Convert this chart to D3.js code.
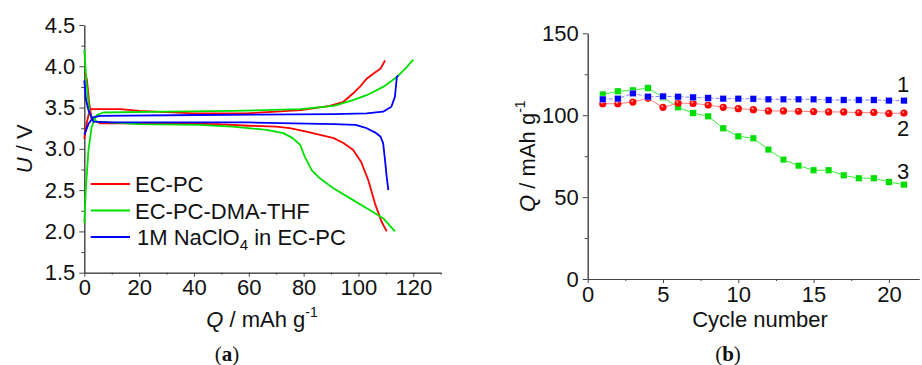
<!DOCTYPE html>
<html>
<head>
<meta charset="utf-8">
<script src="https://cdn.jsdelivr.net/npm/d3@7"></script>
<style>
  body { margin: 0; background: #fff; }
  svg text { font-family: "Liberation Sans", Arial, sans-serif; fill: #111; }
</style>
</head>
<body>
<svg id="chart" width="922" height="365"></svg>
<script>
// (a) 充放電曲線 [Q, U]
const ecpcCharge = [[0, 3.12], [0.8, 3.3], [1.8, 3.45], [2.5, 3.48], [13, 3.48], [20, 3.46], [40, 3.43], [59, 3.43], [70, 3.45], [79, 3.47], [89.6, 3.52], [94.5, 3.57], [98, 3.67], [101, 3.77], [103, 3.85], [105.4, 3.91], [108, 3.97], [109.7, 4.07]];
const ecpcDischarge = [[0.2, 3.92], [0.9, 3.85], [1.8, 3.55], [2.7, 3.36], [5.7, 3.31], [30, 3.31], [48, 3.3], [60, 3.28], [70, 3.27], [75, 3.25], [81, 3.21], [86, 3.17], [91, 3.13], [94.5, 3.07], [98, 2.99], [101, 2.84], [103.6, 2.62], [106, 2.34], [108.4, 2.12], [110.3, 2.0]];
const dmaCharge = [[0, 2.1], [0.6, 2.54], [1.5, 2.98], [2.7, 3.27], [4.5, 3.41], [7, 3.44], [30, 3.45], [54, 3.46], [78.7, 3.48], [91, 3.52], [98, 3.59], [103, 3.65], [109, 3.75], [114, 3.87], [117.6, 3.99], [120, 4.08]];
const dmaDischarge = [[0, 4.2], [0.8, 3.8], [2, 3.41], [4.5, 3.33], [20, 3.3], [42, 3.29], [54, 3.27], [66.5, 3.23], [72.6, 3.19], [76, 3.13], [78.7, 3.05], [80.5, 2.9], [83, 2.74], [86, 2.64], [91, 2.52], [97, 2.4], [103, 2.28], [109, 2.16], [113.3, 2.0]];
const naclo4Charge = [[0, 3.17], [1.5, 3.3], [3.2, 3.38], [5.7, 3.4], [42, 3.41], [91, 3.42], [103, 3.43], [109, 3.45], [112, 3.51], [113.3, 3.63], [114, 3.87], [114.5, 3.89]];
const naclo4Discharge = [[0, 3.83], [0.6, 3.6], [1.5, 3.47], [3.3, 3.33], [10, 3.32], [60, 3.32], [91, 3.3], [99, 3.29], [103, 3.25], [106, 3.2], [108, 3.15], [109, 3.07], [109.7, 2.86], [110.3, 2.66], [110.9, 2.5]];

const legendNames = ['EC-PC', 'EC-PC-DMA-THF', '1M NaClO4 in EC-PC'];
const curveColors = ['#ff0000', '#00e000', '#0000ff'];

// (b) サイクル特性
const cycles = d3.range(1, 22);
const capBlue = [109.7, 110.1, 113.3, 111.3, 111.5, 111.3, 110.9, 110.5, 110.1, 110.1, 110.0, 109.7, 109.7, 109.7, 109.7, 109.3, 109.3, 109.3, 109.3, 108.9, 108.9];
const capRed = [107.0, 107.0, 108.0, 110.3, 104.8, 107.4, 107.2, 106.2, 104.8, 104.0, 103.4, 102.6, 102.6, 102.4, 102.2, 102.0, 102.0, 101.5, 101.7, 101.1, 101.3];
const capGreen = [112.7, 114.6, 115.2, 116.6, 110.9, 104.8, 101.3, 99.3, 92.0, 87.1, 85.9, 79.0, 72.9, 69.2, 66.4, 66.4, 63.3, 61.5, 61.5, 59.2, 57.6];
const seriesLabels = ['1', '2', '3'];

const FS = 22;
const svg = d3.select('#chart');
const axisColor = '#444';

function styleAxis(g) {
    g.selectAll('path, line').attr('stroke', axisColor).attr('stroke-width', 1);
    g.selectAll('text').attr('font-size', FS).attr('fill', '#111');
}

// ---------- (a) ----------
const xA = d3.scaleLinear().domain([0, 130]).range([84.3, 440.7]);
const yA = d3.scaleLinear().domain([1.5, 4.5]).range([272.7, 25]);

const gA = svg.append('g');

gA.append('g')
    .attr('transform', `translate(0,${yA(1.5)})`)
    .call(d3.axisBottom(xA).tickValues(d3.range(10, 131, 20)).tickSize(2).tickFormat('').tickSizeOuter(0))
    .call(styleAxis);
gA.append('g')
    .attr('transform', `translate(0,${yA(1.5)})`)
    .call(d3.axisBottom(xA).tickValues(d3.range(0, 121, 20)).tickSize(4).tickPadding(3).tickSizeOuter(0))
    .call(styleAxis);
gA.append('g')
    .attr('transform', `translate(${xA(0)},0)`)
    .call(d3.axisLeft(yA).tickValues(d3.range(1.75, 4.5, 0.5)).tickSize(3).tickFormat('').tickSizeOuter(0))
    .call(styleAxis);
gA.append('g')
    .attr('transform', `translate(${xA(0)},0)`)
    .call(d3.axisLeft(yA).tickValues(d3.range(1.5, 4.51, 0.5)).tickSize(5).tickPadding(4).tickFormat(d3.format('.1f')).tickSizeOuter(0))
    .call(styleAxis);

const lineA = d3.line().x(d => xA(d[0])).y(d => yA(d[1]));
const curveSets = [[ecpcCharge, ecpcDischarge], [dmaCharge, dmaDischarge], [naclo4Charge, naclo4Discharge]];
curveSets.forEach((pair, i) => {
    pair.forEach(data => {
        gA.append('path')
            .datum(data)
            .attr('d', lineA)
            .attr('fill', 'none')
            .attr('stroke', curveColors[i])
            .attr('stroke-width', 1.8)
            .attr('stroke-linejoin', 'round');
    });
});

// 凡例
legendNames.forEach((name, i) => {
    const ly = 184 + i * 26.5;
    gA.append('line')
        .attr('x1', 90.7).attr('x2', 130)
        .attr('y1', ly).attr('y2', ly)
        .attr('stroke', curveColors[i]).attr('stroke-width', 1.8);
    const t = gA.append('text')
        .attr('x', i === 2 ? 137 : 135).attr('y', ly + 8)
        .attr('font-size', FS);
    if (i === 2) {
        t.append('tspan').text('1M NaClO');
        t.append('tspan').attr('font-size', 15).attr('dy', 5).text('4');
        t.append('tspan').attr('dy', -5).text(' in EC-PC');
    } else {
        t.text(name);
    }
});

// 軸タイトル
const yTitleA = gA.append('text')
    .attr('transform', `translate(32,${(yA(1.5) + yA(4.5)) / 2}) rotate(-90)`)
    .attr('text-anchor', 'middle')
    .attr('font-size', FS);
yTitleA.append('tspan').attr('font-style', 'italic').text('U');
yTitleA.append('tspan').text(' / V');

const xTitleA = gA.append('text')
    .attr('x', 262).attr('y', 327)
    .attr('text-anchor', 'middle')
    .attr('font-size', FS);
xTitleA.append('tspan').attr('font-style', 'italic').text('Q');
xTitleA.append('tspan').text(' / mAh g');
xTitleA.append('tspan').attr('font-size', 14).attr('dy', -10).text('-1');

gA.append('text')
    .attr('x', 227).attr('y', 361)
    .attr('text-anchor', 'middle')
    .style('font-family', '"Liberation Serif", serif')
    .attr('font-size', 21)
    .html('(<tspan font-weight="bold">a</tspan>)');

// ---------- (b) ----------
const xB = d3.scaleLinear().domain([0, 22]).range([587.7, 919]);
const yB = d3.scaleLinear().domain([0, 150]).range([279, 33.3]);

const gB = svg.append('g');

gB.append('g')
    .attr('transform', `translate(0,${yB(0)})`)
    .call(d3.axisBottom(xB).tickValues([2.5, 7.5, 12.5, 17.5]).tickSize(2).tickFormat('').tickSizeOuter(0))
    .call(styleAxis);
gB.append('g')
    .attr('transform', `translate(0,${yB(0)})`)
    .call(d3.axisBottom(xB).tickValues([0, 5, 10, 15, 20]).tickSize(4).tickPadding(3).tickSizeOuter(0))
    .call(styleAxis);
gB.append('g')
    .attr('transform', `translate(${xB(0)},0)`)
    .call(d3.axisLeft(yB).tickValues([25, 75, 125]).tickSize(3).tickFormat('').tickSizeOuter(0))
    .call(styleAxis);
gB.append('g')
    .attr('transform', `translate(${xB(0)},0)`)
    .call(d3.axisLeft(yB).tickValues([0, 50, 100, 150]).tickSize(5).tickPadding(4).tickSizeOuter(0))
    .call(styleAxis);

const lineB = d3.line().x(d => xB(d[0])).y(d => yB(d[1]));
const seriesB = [
    { values: capBlue, line: '#7f7fff', mark: '#0000ff', shape: 'square', dash: '4,2' },
    { values: capRed, line: '#ff7f7f', mark: '#ff0000', shape: 'circle', dash: null },
    { values: capGreen, line: '#33ee33', mark: '#00dd00', shape: 'square', dash: null }
];
// 描画順: 緑 → 赤 → 青
[2, 1, 0].forEach(k => {
    const s = seriesB[k];
    const pts = cycles.map((c, i) => [c, s.values[i]]);
    gB.append('path')
        .datum(pts)
        .attr('d', lineB)
        .attr('fill', 'none')
        .attr('stroke', s.line)
        .attr('stroke-width', 1)
        .attr('stroke-dasharray', s.dash);
    if (s.shape === 'square') {
        gB.selectAll(null).data(pts).enter().append('rect')
            .attr('x', d => xB(d[0]) - 3.3)
            .attr('y', d => yB(d[1]) - 3.3)
            .attr('width', 6.6).attr('height', 6.6)
            .attr('fill', s.mark)
            .attr('stroke', '#fff').attr('stroke-width', 0.4);
    } else {
        gB.selectAll(null).data(pts).enter().append('circle')
            .attr('cx', d => xB(d[0]))
            .attr('cy', d => yB(d[1]))
            .attr('r', 3.6)
            .attr('fill', s.mark);
        gB.selectAll(null).data(pts).enter().append('circle')
            .attr('cx', d => xB(d[0]) - 0.8)
            .attr('cy', d => yB(d[1]) - 1)
            .attr('r', 1.1)
            .attr('fill', '#ff9c9c');
    }
});

// 系列番号
const labelY = [84, 128, 171];
seriesLabels.forEach((lab, i) => {
    gB.append('text')
        .attr('x', 903).attr('y', labelY[i] + 8)
        .attr('text-anchor', 'middle')
        .attr('font-size', FS)
        .text(lab);
});

const yTitleB = gB.append('text')
    .attr('transform', `translate(535,${(yB(0) + yB(150)) / 2}) rotate(-90)`)
    .attr('text-anchor', 'middle')
    .attr('font-size', FS);
yTitleB.append('tspan').attr('font-style', 'italic').text('Q');
yTitleB.append('tspan').text(' / mAh g');
yTitleB.append('tspan').attr('font-size', 14).attr('dy', -10).text('-1');

gB.append('text')
    .attr('x', 760).attr('y', 327)
    .attr('text-anchor', 'middle')
    .attr('font-size', FS)
    .text('Cycle number');

gB.append('text')
    .attr('x', 728).attr('y', 361)
    .attr('text-anchor', 'middle')
    .style('font-family', '"Liberation Serif", serif')
    .attr('font-size', 21)
    .html('(<tspan font-weight="bold">b</tspan>)');
</script>
</body>
</html>
